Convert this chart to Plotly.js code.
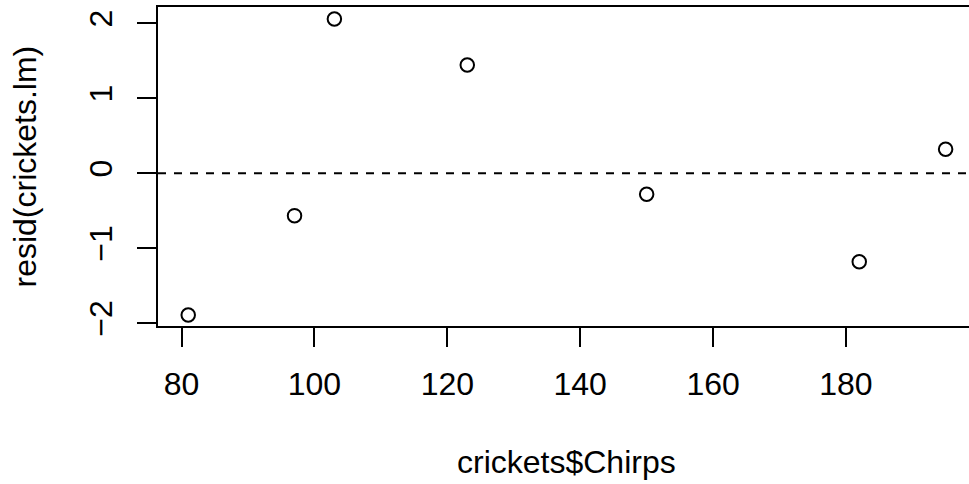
<!DOCTYPE html>
<html>
<head>
<meta charset="utf-8">
<script src="https://cdn.plot.ly/plotly-3.0.1.min.js"></script>
<style>
html,body{margin:0;padding:0;background:#fff;}
#chart{width:969px;height:484px;}
</style>
</head>
<body>
<div id="chart"></div>
<script>
// Data
const chirps = [81, 97, 103, 123, 150, 182, 195];
const residuals = [-1.889, -0.565, 2.057, 1.444, -0.28, -1.179, 0.32];
const xTickVals = [80, 100, 120, 140, 160, 180];
const xTickText = ["80", "100", "120", "140", "160", "180"];
const yTickVals = [-2, -1, 0, 1, 2];
const yTickText = ["\u22122", "\u22121", "0", "1", "2"];
const refLineY = 0;
const xTitle = "crickets$Chirps";
const yTitle = "resid(crickets.lm)";

const FONT = "Liberation Sans, Arial, Helvetica, sans-serif";
const FS = 32;

const trace = {
  x: chirps,
  y: residuals,
  type: "scatter",
  mode: "markers",
  marker: {symbol: "circle-open", size: 13.5, color: "#000", line: {width: 2, color: "#000"}},
  hoverinfo: "skip",
  showlegend: false
};

const layout = {
  width: 969,
  height: 484,
  margin: {l: 158, r: 0, t: 7, b: 158, pad: 0},
  paper_bgcolor: "#fff",
  plot_bgcolor: "#fff",
  font: {family: FONT, size: FS, color: "#000"},
  showlegend: false,
  xaxis: {
    range: [76.45, 198.52],
    showgrid: false,
    zeroline: false,
    showline: true,
    mirror: true,
    linecolor: "#000",
    linewidth: 2,
    ticks: "outside",
    ticklen: 19,
    tickwidth: 2,
    tickcolor: "#000",
    tickmode: "array",
    tickvals: xTickVals,
    ticktext: xTickText,
    tickfont: {family: FONT, size: FS, color: "#000"},
    ticklabelstandoff: 10,
    automargin: false
  },
  yaxis: {
    range: [-2.036, 2.217],
    showgrid: false,
    zeroline: false,
    showline: true,
    mirror: false,
    linecolor: "#000",
    linewidth: 2,
    ticks: "outside",
    ticklen: 19,
    tickwidth: 2,
    tickcolor: "#000",
    tickmode: "array",
    tickvals: yTickVals,
    ticktext: yTickText,
    tickangle: -90,
    tickfont: {family: FONT, size: FS, color: "#000"},
    ticklabelstandoff: 12,
    automargin: false
  },
  shapes: [{
    type: "line",
    xref: "paper", x0: 0, x1: 1,
    yref: "y", y0: refLineY, y1: refLineY,
    line: {color: "#000", width: 2, dash: "8px,8px"},
    layer: "below"
  }],
  annotations: [
    {
      text: xTitle, xref: "paper", yref: "paper",
      x: 0.5043, y: 0, xanchor: "center", yanchor: "middle",
      yshift: -135.5, showarrow: false,
      font: {family: FONT, size: FS, color: "#000"}
    },
    {
      text: yTitle, xref: "paper", yref: "paper",
      x: 0, y: 0.5, xanchor: "center", yanchor: "middle",
      xshift: -134, textangle: -90, showarrow: false,
      font: {family: FONT, size: FS, color: "#000"}
    }
  ]
};

Plotly.newPlot("chart", [trace], layout, {staticPlot: true, displayModeBar: false});
</script>
</body>
</html>
